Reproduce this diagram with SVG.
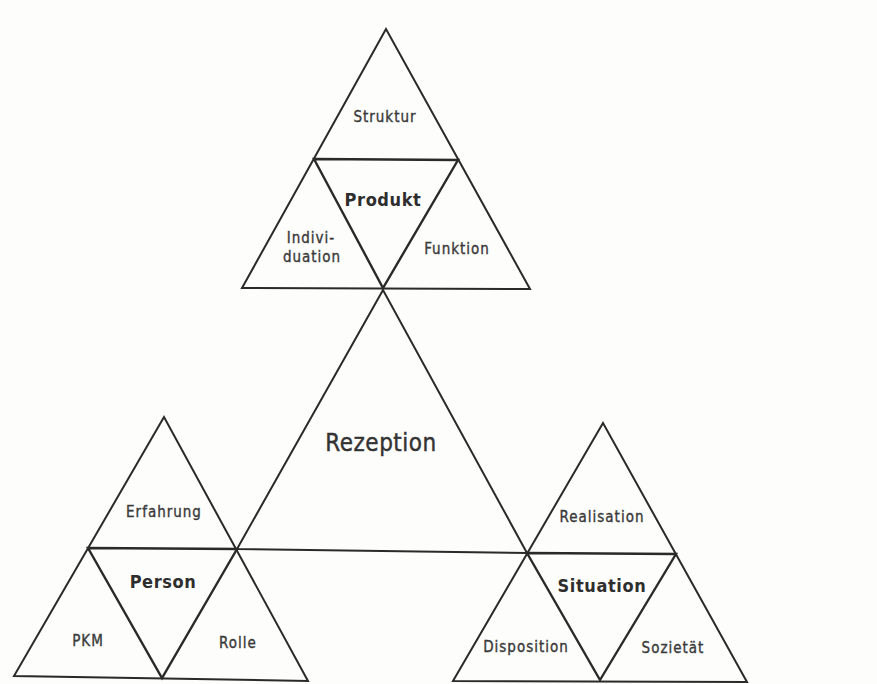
<svg xmlns="http://www.w3.org/2000/svg" width="877" height="684" viewBox="0 0 877 684">
<style>
.tri{fill:none;stroke:#2a2a2a;stroke-width:2;stroke-linejoin:miter}
.inner{fill:none;stroke:#2a2a2a;stroke-width:2.4;stroke-linejoin:miter}
.lbl{font-family:"DejaVu Sans Condensed","DejaVu Sans",sans-serif;font-size:15px;fill:#3a3a3a;stroke:#3a3a3a;stroke-width:0.35;text-anchor:middle;letter-spacing:1px}
.bold{font-family:"DejaVu Sans Condensed","DejaVu Sans",sans-serif;font-size:18px;font-weight:bold;fill:#2e2e2e;text-anchor:middle;letter-spacing:0.6px}
.big{font-family:"DejaVu Sans Condensed","DejaVu Sans",sans-serif;font-size:24px;fill:#333;stroke:#333;stroke-width:0.4;text-anchor:middle;letter-spacing:0.5px}
</style>
<rect width="877" height="684" fill="#fdfdfb"/>
<g id="connectors">
<g id="rezeption">
<polygon class="tri" points="383,290 237,549 527,553"/>
<text class="big" x="381" y="451">Rezeption</text>
</g>
</g>
<g id="produkt">
<polygon class="tri" points="386,29 242,288 530,289"/>
<polygon class="inner" points="314,159 458,160 383,288"/>
<text class="lbl" x="385" y="122">Struktur</text>
<text class="bold" x="383" y="206">Produkt</text>
<text class="lbl" x="311" y="243">Indivi-</text>
<text class="lbl" x="312" y="262">duation</text>
<text class="lbl" x="457" y="254">Funktion</text>
</g>
<g id="person">
<polygon class="tri" points="164,417 14,676 308,681"/>
<polygon class="inner" points="88,548 237,549 162,678"/>
<text class="lbl" x="164" y="517">Erfahrung</text>
<text class="bold" x="163" y="588">Person</text>
<text class="lbl" x="88" y="646">PKM</text>
<text class="lbl" x="238" y="648">Rolle</text>
</g>
<g id="situation">
<polygon class="tri" points="603,423 453,681 747,682"/>
<polygon class="inner" points="527,553 676,554 600,680"/>
<text class="lbl" x="602" y="522">Realisation</text>
<text class="bold" x="602" y="592">Situation</text>
<text class="lbl" x="526" y="652">Disposition</text>
<text class="lbl" x="673" y="653">Sozietät</text>
</g>
</svg>
